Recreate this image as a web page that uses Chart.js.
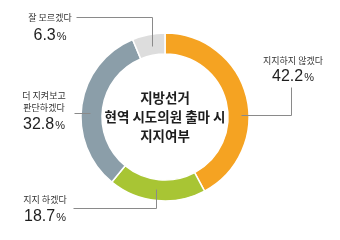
<!DOCTYPE html>
<html>
<head>
<meta charset="utf-8">
<script src="https://cdn.jsdelivr.net/npm/chart.js@4/dist/chart.umd.min.js"></script>
<style>
  html, body { margin: 0; padding: 0; background: #fff; }
  #wrap { width: 340px; height: 240px; position: relative; }
</style>
</head>
<body>
<div id="wrap"><canvas id="pie"></canvas></div>
<script>
// 지방선거 현역 시도의원 출마 시 지지여부
const labels = ['지지하지 않겠다', '지지 하겠다', '더 지켜보고 판단하겠다', '잘 모르겠다'];
const values = [42.2, 18.7, 32.8, 6.3];
const colors = ['#f5a322', '#a8c534', '#8b9ea9', '#dddddd'];
const centerLines = ['지방선거', '현역 시도의원 출마 시', '지지여부'];

// label blocks: text lines, centre x, line y's, and leader polyline
const callouts = [
    { lines: ['지지하지 않겠다'], x: 293, y: [61], pctY: 75, path: [[291, 87], [291, 115], [241, 115]] },
    { lines: ['지지 하겠다'], x: 45, y: [200], pctY: 215, path: [[73, 208], [156, 208], [156, 189]] },
    { lines: ['더 지켜보고', '판단하겠다'], x: 44, y: [96, 108], pctY: 123, path: [[74, 113], [90, 113]] },
    { lines: ['잘 모르겠다'], x: 50, y: [18], pctY: 34, path: [[76, 17], [152, 17], [152, 46]] }
];

const KR = '"Noto Sans CJK KR", "Noto Sans", sans-serif';

const labelPlugin = {
    id: 'labelPlugin',
    afterDraw(chart) {
        const ctx = chart.ctx;
        const arc = chart.getDatasetMeta(0).data[0];
        ctx.save();

        // center title
        ctx.fillStyle = '#1e1e1e';
        ctx.textAlign = 'center';
        ctx.textBaseline = 'middle';
        ctx.font = '600 13.5px ' + KR;
        centerLines.forEach((t, i) => {
            ctx.fillText(t, arc.x, arc.y - 19 + i * 19);
        });

        callouts.forEach((c, i) => {
            // leader line
            ctx.strokeStyle = '#8a8a8a';
            ctx.lineWidth = 1;
            ctx.beginPath();
            c.path.forEach((p, j) => {
                if (j === 0) ctx.moveTo(p[0] + 0.5, p[1] + 0.5);
                else ctx.lineTo(p[0] + 0.5, p[1] + 0.5);
            });
            ctx.stroke();

            // category text
            ctx.fillStyle = '#333';
            ctx.font = '9px ' + KR;
            ctx.textAlign = 'center';
            c.lines.forEach((t, j) => ctx.fillText(t, c.x, c.y[j]));

            // percentage: big digits, small %
            const num = values[i].toFixed(1);
            const big = '16px "Liberation Sans", Arial, sans-serif';
            const small = '11px "Liberation Sans", Arial, sans-serif';
            ctx.font = big;
            const wNum = ctx.measureText(num).width;
            ctx.font = small;
            const wPct = ctx.measureText('%').width;
            const x0 = c.x - (wNum + wPct + 1) / 2;
            ctx.textAlign = 'left';
            ctx.textBaseline = 'alphabetic';
            ctx.fillStyle = '#1e1e1e';
            ctx.font = big;
            ctx.fillText(num, x0, c.pctY + 6);
            ctx.font = small;
            ctx.fillText('%', x0 + wNum + 1, c.pctY + 6);
            ctx.textBaseline = 'middle';
        });
        ctx.restore();
    }
};

new Chart(document.getElementById('pie'), {
    type: 'doughnut',
    data: {
        labels: labels,
        datasets: [{
            data: values,
            backgroundColor: colors,
            borderColor: '#ffffff',
            borderWidth: 1.5,
            radius: 84,
            cutout: '75%'
        }]
    },
    options: {
        responsive: true,
        maintainAspectRatio: false,
        animation: false,
        layout: { padding: { left: 0, right: 10, top: 0, bottom: 6 } },
        plugins: {
            legend: { display: false },
            tooltip: { enabled: false }
        }
    },
    plugins: [labelPlugin]
});
</script>
</body>
</html>
